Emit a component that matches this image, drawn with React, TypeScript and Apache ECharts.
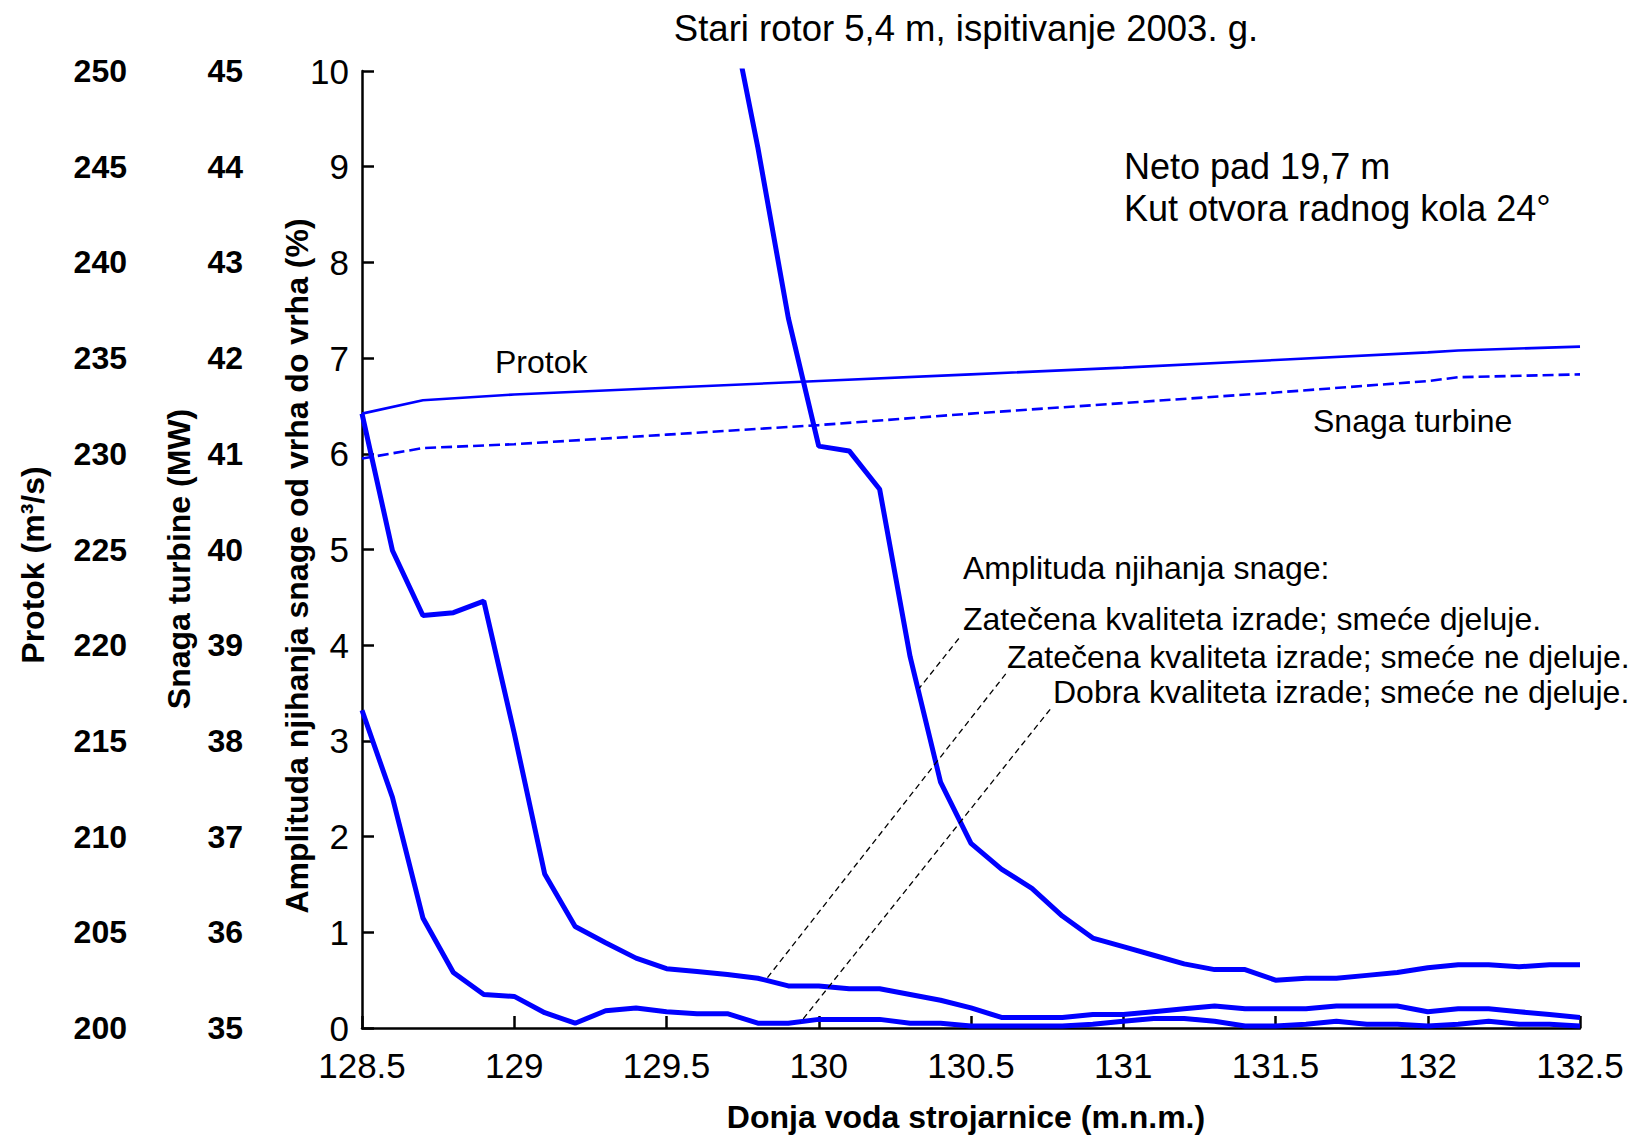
import React, { useEffect, useRef } from "react";
import * as echarts from "echarts";

const FONT = '"Liberation Sans", Arial, Helvetica, sans-serif';
const BLUE = "#0000ff";

// Donja voda strojarnice (m.n.m.) – x positions of the amplitude measurements
const ampX = [
  128.5, 128.6, 128.7, 128.8, 128.9, 129.0, 129.1, 129.2, 129.3, 129.4,
  129.5, 129.6, 129.7, 129.8, 129.9, 130.0, 130.1, 130.2, 130.3, 130.4,
  130.5, 130.6, 130.7, 130.8, 130.9, 131.0, 131.1, 131.2, 131.3, 131.4,
  131.5, 131.6, 131.7, 131.8, 131.9, 132.0, 132.1, 132.2, 132.3, 132.4, 132.5,
];

// Dobra kvaliteta izrade; smeće ne djeluje (%)
const dobraNeDjeluje = [
  3.32, 2.41, 1.15, 0.58, 0.35, 0.33, 0.16, 0.05, 0.18, 0.21,
  0.17, 0.15, 0.15, 0.05, 0.05, 0.09, 0.09, 0.09, 0.05, 0.05,
  0.02, 0.02, 0.02, 0.02, 0.04, 0.07, 0.1, 0.1, 0.07, 0.02,
  0.02, 0.04, 0.07, 0.04, 0.04, 0.02, 0.04, 0.07, 0.04, 0.04, 0.02,
];

// Zatečena kvaliteta izrade; smeće ne djeluje (%)
const zatecenaNeDjeluje = [
  6.42, 4.99, 4.31, 4.34, 4.46, 3.08, 1.61, 1.06, 0.89, 0.73,
  0.62, 0.59, 0.56, 0.52, 0.44, 0.44, 0.41, 0.41, 0.35, 0.29,
  0.21, 0.11, 0.11, 0.11, 0.14, 0.14, 0.17, 0.2, 0.23, 0.2,
  0.2, 0.2, 0.23, 0.23, 0.23, 0.17, 0.2, 0.2, 0.17, 0.14, 0.11,
];

// Zatečena kvaliteta izrade; smeće djeluje (%)
const zatecenaDjelujeX = [
  129.7, 129.8, 129.9, 130.0, 130.1, 130.2, 130.3, 130.4, 130.5, 130.6,
  130.7, 130.8, 130.9, 131.0, 131.1, 131.2, 131.3, 131.4, 131.5, 131.6,
  131.7, 131.8, 131.9, 132.0, 132.1, 132.2, 132.3, 132.4, 132.5,
];
const zatecenaDjeluje = [
  10.8, 9.2, 7.42, 6.08, 6.03, 5.63, 3.88, 2.57, 1.93, 1.66,
  1.46, 1.17, 0.94, 0.85, 0.76, 0.67, 0.61, 0.61, 0.5, 0.52,
  0.52, 0.55, 0.58, 0.63, 0.66, 0.66, 0.64, 0.66, 0.66,
];

// Protok (m3/s) and Snaga turbine (MW)
const flowX = [128.5, 128.7, 129.0, 129.5, 130.0, 130.5, 131.0, 131.5, 132.0, 132.1, 132.5];
const protok = [232.1, 232.8, 233.1, 233.45, 233.8, 234.15, 234.5, 234.9, 235.3, 235.4, 235.6];
const snaga = [40.95, 41.06, 41.1, 41.2, 41.3, 41.42, 41.53, 41.64, 41.76, 41.8, 41.83];

// Leader lines (data coordinates of the amplitude axis)
const leaderDjeluje = [[130.46, 4.07], [130.33, 3.55]];
const leaderZatecenaNe = [[130.614, 3.7], [129.83, 0.52]];
const leaderDobraNe = [[130.76, 3.33], [129.94, 0.06]];

const zip = (xs: number[], ys: number[]) => xs.map((x, i) => [x, ys[i]]);

function txt(text: string, x: number, y: number, size: number, opts: any = {}) {
  const align = opts.align || "left";
  return {
    type: "text",
    x,
    y,
    rotation: opts.rotation || 0,
    style: {
      text,
      fill: "#000",
      fontSize: size,
      fontFamily: FONT,
      fontWeight: opts.bold ? "bold" : "normal",
      align,
      textAlign: align,
      verticalAlign: "middle",
      textVerticalAlign: "middle",
    },
  };
}

export default function App() {
  const ref = useRef<HTMLDivElement>(null);

  useEffect(() => {
    if (!ref.current) return;
    const chart = echarts.init(ref.current, null, { renderer: "svg" });

    const blackLine = { color: "#000", width: 2.5 };

    const option: any = {
      animation: false,
      backgroundColor: "#fff",
      grid: { left: 362, right: 52, top: 71, bottom: 108, containLabel: false },
      xAxis: {
        type: "value",
        min: 128.5,
        max: 132.5,
        interval: 0.5,
        axisLine: { show: true, onZero: false, lineStyle: blackLine },
        axisTick: { show: true, inside: true, length: 12, lineStyle: blackLine },
        axisLabel: { color: "#000", fontSize: 35, lineHeight: 32, fontFamily: FONT, margin: 21 },
        splitLine: { show: false },
      },
      yAxis: [
        {
          type: "value",
          position: "left",
          min: 0,
          max: 10,
          interval: 1,
          axisLine: { show: true, onZero: false, lineStyle: blackLine },
          axisTick: { show: true, inside: true, length: 12, lineStyle: blackLine },
          axisLabel: { color: "#000", fontSize: 35, lineHeight: 30, fontFamily: FONT, margin: 13 },
          splitLine: { show: false },
        },
        {
          type: "value",
          position: "left",
          offset: 119,
          min: 35,
          max: 45,
          interval: 1,
          axisLine: { show: false },
          axisTick: { show: false },
          axisLabel: { color: "#000", fontSize: 32, fontWeight: "bold", fontFamily: FONT, margin: 0 },
          splitLine: { show: false },
        },
        {
          type: "value",
          position: "left",
          offset: 235,
          min: 200,
          max: 250,
          interval: 5,
          axisLine: { show: false },
          axisTick: { show: false },
          axisLabel: { color: "#000", fontSize: 32, fontWeight: "bold", fontFamily: FONT, margin: 0 },
          splitLine: { show: false },
        },
      ],
      series: [
        {
          name: "Protok",
          type: "line",
          yAxisIndex: 2,
          data: zip(flowX, protok),
          showSymbol: false,
          lineStyle: { color: BLUE, width: 2.6 },
        },
        {
          name: "Snaga turbine",
          type: "line",
          yAxisIndex: 1,
          data: zip(flowX, snaga),
          showSymbol: false,
          lineStyle: { color: BLUE, width: 2.6, type: [11, 5] },
        },
        {
          name: "Zatečena kvaliteta izrade; smeće djeluje.",
          type: "line",
          data: zip(zatecenaDjelujeX, zatecenaDjeluje),
          showSymbol: false,
          clip: true,
          lineStyle: { color: BLUE, width: 5 },
        },
        {
          name: "Zatečena kvaliteta izrade; smeće ne djeluje.",
          type: "line",
          data: zip(ampX, zatecenaNeDjeluje),
          showSymbol: false,
          lineStyle: { color: BLUE, width: 5 },
        },
        {
          name: "Dobra kvaliteta izrade; smeće ne djeluje.",
          type: "line",
          data: zip(ampX, dobraNeDjeluje),
          showSymbol: false,
          lineStyle: { color: BLUE, width: 5 },
        },
        ...[leaderDjeluje, leaderZatecenaNe, leaderDobraNe].map((d) => ({
          type: "line",
          data: d,
          showSymbol: false,
          silent: true,
          lineStyle: { color: "#000", width: 1.3, type: [6, 4] },
        })),
      ],
      graphic: [
        txt("Stari rotor 5,4 m, ispitivanje 2003. g.", 966, 28, 36.5, { align: "center" }),
        txt("Neto pad 19,7 m", 1124, 166, 36),
        txt("Kut otvora radnog kola 24°", 1124, 208, 36),
        txt("Protok", 495, 362, 32),
        txt("Snaga turbine", 1313, 421, 32),
        txt("Amplituda njihanja snage:", 963, 568, 32),
        txt("Zatečena kvaliteta izrade; smeće djeluje.", 963, 619, 32),
        txt("Zatečena kvaliteta izrade; smeće ne djeluje.", 1007, 657, 32),
        txt("Dobra kvaliteta izrade; smeće ne djeluje.", 1053, 692, 32),
        txt("Donja voda strojarnice (m.n.m.)", 966, 1117, 32, { align: "center", bold: true }),
        txt("Amplituda njihanja snage od vrha do vrha (%)", 297, 566, 32, {
          align: "center",
          bold: true,
          rotation: Math.PI / 2,
        }),
        txt("Snaga turbine (MW)", 179, 559, 32, { align: "center", bold: true, rotation: Math.PI / 2 }),
        txt("Protok (m³/s)", 33, 565, 32, { align: "center", bold: true, rotation: Math.PI / 2 }),
      ],
    };

    chart.setOption(option);
    return () => chart.dispose();
  }, []);

  return (
    <div
      ref={ref}
      style={{ position: "fixed", left: 0, top: 0, width: 1632, height: 1136, background: "#fff" }}
    />
  );
}
